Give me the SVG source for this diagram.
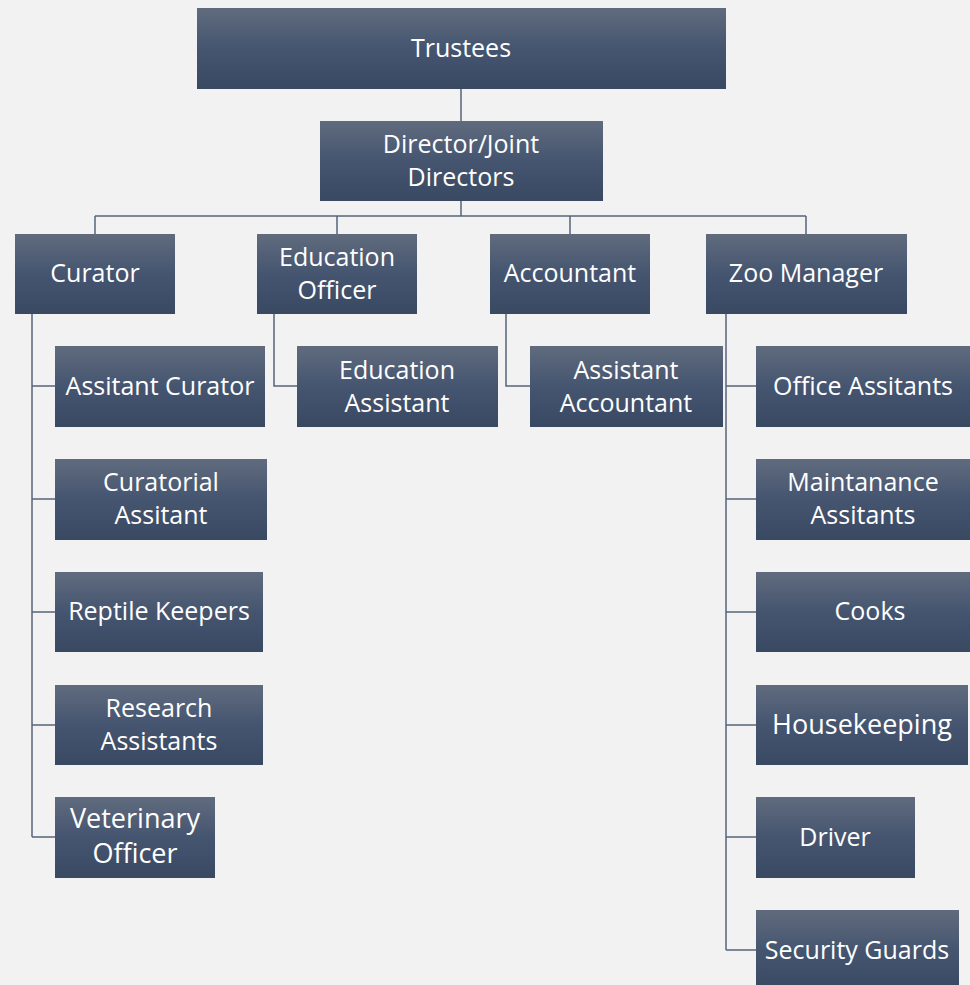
<svg xmlns="http://www.w3.org/2000/svg" width="970" height="985" viewBox="0 0 970 985">
<defs>
<linearGradient id="g" x1="0" y1="0" x2="0" y2="1">
<stop offset="0" stop-color="#606b7d"/>
<stop offset="0.5" stop-color="#455570"/>
<stop offset="1" stop-color="#3a4962"/>
</linearGradient>
<style>
.b{fill:url(#g);}
.t{font-family:"Open Sans","Liberation Sans",sans-serif;font-size:25px;fill:#ffffff;text-anchor:middle;}
.L{font-size:27px;}
.c{fill:none;stroke:#56657b;stroke-width:1.5;}
</style>
</defs>
<rect width="970" height="985" fill="#f2f2f2"/>
<g id="connectors">
<path class="c" d="M461 89V121M461 201V216M95 216H806M95 216V234M337 216V234M570 216V234M806 216V234"/>
<path class="c" d="M32 314V837M32 386H55M32 499H55M32 612H55M32 725H55M32 837H55"/>
<path class="c" d="M274 314V386H297"/>
<path class="c" d="M506 314V386H530"/>
<path class="c" d="M726 314V950M726 386H756M726 499H756M726 612H756M726 725H756M726 837H756M726 950H756"/>
</g>
<g id="trustees"><rect class="b" x="197" y="8" width="529" height="81"/><text class="t" x="461" y="57">Trustees</text></g>
<g id="director"><rect class="b" x="320" y="121" width="283" height="80"/><text class="t" x="461" y="153">Director/Joint</text><text class="t" x="461" y="186">Directors</text></g>
<g id="curator"><rect class="b" x="15" y="234" width="160" height="80"/><text class="t" x="95" y="282">Curator</text></g>
<g id="education-officer"><rect class="b" x="257" y="234" width="160" height="80"/><text class="t" x="337" y="266">Education</text><text class="t" x="337" y="299">Officer</text></g>
<g id="accountant"><rect class="b" x="490" y="234" width="160" height="80"/><text class="t" x="570" y="282">Accountant</text></g>
<g id="zoo-manager"><rect class="b" x="706" y="234" width="201" height="80"/><text class="t" x="806" y="282">Zoo Manager</text></g>
<g id="assistant-curator"><rect class="b" x="55" y="346" width="210" height="81"/><text class="t" x="160" y="395">Assitant Curator</text></g>
<g id="curatorial-assistant"><rect class="b" x="55" y="459" width="212" height="81"/><text class="t" x="161" y="491">Curatorial</text><text class="t" x="161" y="524">Assitant</text></g>
<g id="reptile-keepers"><rect class="b" x="55" y="572" width="208" height="80"/><text class="t" x="159" y="620">Reptile Keepers</text></g>
<g id="research-assistants"><rect class="b" x="55" y="685" width="208" height="80"/><text class="t" x="159" y="717">Research</text><text class="t" x="159" y="750">Assistants</text></g>
<g id="veterinary-officer"><rect class="b" x="55" y="797" width="160" height="81"/><text class="t L" x="135" y="828">Veterinary</text><text class="t L" x="135" y="863">Officer</text></g>
<g id="education-assistant"><rect class="b" x="297" y="346" width="201" height="81"/><text class="t" x="397" y="379">Education</text><text class="t" x="397" y="412">Assistant</text></g>
<g id="assistant-accountant"><rect class="b" x="530" y="346" width="193" height="81"/><text class="t" x="626" y="379">Assistant</text><text class="t" x="626" y="412">Accountant</text></g>
<g id="office-assistants"><rect class="b" x="756" y="346" width="214" height="81"/><text class="t" x="863" y="395">Office Assitants</text></g>
<g id="maintanance-assistants"><rect class="b" x="756" y="459" width="214" height="81"/><text class="t" x="863" y="491">Maintanance</text><text class="t" x="863" y="524">Assitants</text></g>
<g id="cooks"><rect class="b" x="756" y="572" width="228" height="80"/><text class="t" x="870" y="620">Cooks</text></g>
<g id="housekeeping"><rect class="b" x="756" y="685" width="212" height="80"/><text class="t L" x="862" y="734">Housekeeping</text></g>
<g id="driver"><rect class="b" x="756" y="797" width="159" height="81"/><text class="t" x="835" y="846">Driver</text></g>
<g id="security-guards"><rect class="b" x="756" y="910" width="203" height="81"/><text class="t" x="857" y="959">Security Guards</text></g>
</svg>
